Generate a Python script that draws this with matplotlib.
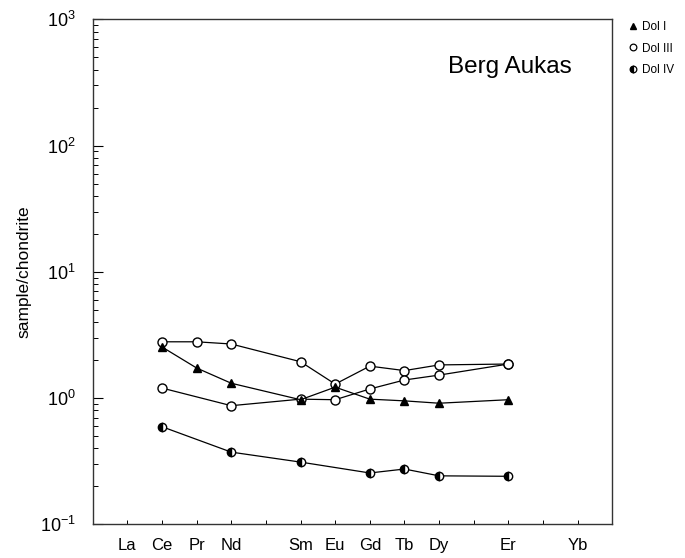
import numpy as np
import matplotlib.pyplot as plt
from matplotlib.lines import Line2D
from matplotlib.ticker import LogLocator, NullFormatter

plt.rcParams['font.family'] = ['Liberation Sans', 'DejaVu Sans']

# element positions on the REE axis (La=1 ... Yb=14)
elements = ['La', 'Ce', 'Pr', 'Nd', '', 'Sm', 'Eu', 'Gd', 'Tb', 'Dy', '', 'Er', '', 'Yb']
elem_pos = np.arange(1, 15)

# Dol I (filled triangles)
dol1_x = [2, 3, 4, 6, 7, 8, 9, 10, 12]
dol1_y = [2.54, 1.73, 1.31, 0.97, 1.22, 0.98, 0.95, 0.91, 0.97]

# Dol III, sample a (open circles)
dol3a_x = [2, 3, 4, 6, 7, 8, 9, 10, 12]
dol3a_y = [2.79, 2.79, 2.68, 1.94, 1.29, 1.79, 1.65, 1.83, 1.86]

# Dol III, sample b (open circles)
dol3b_x = [2, 4, 6, 7, 8, 9, 10, 12]
dol3b_y = [1.20, 0.87, 0.98, 0.97, 1.18, 1.39, 1.52, 1.86]

# Dol IV (half filled circles)
dol4_x = [2, 4, 6, 8, 9, 10, 12]
dol4_y = [0.593, 0.373, 0.311, 0.255, 0.274, 0.242, 0.240]

fig = plt.figure(figsize=(6.85, 5.58), dpi=100)
ax = fig.add_axes([0.1353, 0.0604, 0.7586, 0.905])

lw = 0.9
ax.plot(dol3a_x, dol3a_y, '-', color='black', lw=lw, marker='o', ms=6.5,
        mfc='white', mec='black', mew=1.0, zorder=3)
ax.plot(dol3b_x, dol3b_y, '-', color='black', lw=lw, marker='o', ms=6.5,
        mfc='white', mec='black', mew=1.0, zorder=3)
ax.plot(dol1_x, dol1_y, '-', color='black', lw=lw, marker='^', ms=6,
        mfc='black', mec='black', zorder=4)
ax.plot(dol4_x, dol4_y, '-', color='black', lw=lw, marker='o', ms=6,
        mfc='black', mfcalt='white', fillstyle='left', mec='black', mew=1.0, zorder=3)

ax.set_yscale('log')
ax.set_ylim(0.1, 1000)
ax.set_xlim(0, 15)

ax.yaxis.set_major_locator(LogLocator(base=10, numticks=10))
ax.yaxis.set_minor_locator(LogLocator(base=10, subs=np.arange(2, 10), numticks=20))
ax.yaxis.set_minor_formatter(NullFormatter())
ax.tick_params(axis='y', which='major', direction='in', length=7, width=0.8,
               labelsize=13, pad=12, right=False)
ax.tick_params(axis='y', which='minor', direction='in', length=3.5, width=0.7, right=False)

ax.set_xticks(elem_pos)
ax.set_xticklabels(elements)
ax.tick_params(axis='x', which='major', direction='in', length=3, width=0.7,
               labelsize=12, pad=10, top=False)
ax.tick_params(axis='x', which='minor', bottom=False, top=False)

for sp in ax.spines.values():
    sp.set_color('#333333')
    sp.set_linewidth(1.0)

ax.set_ylabel('sample/chondrite', fontsize=12.5, labelpad=6)

ax.text(0.922, 0.905, 'Berg Aukas', transform=ax.transAxes, ha='right', va='center',
        fontsize=17.5)

handles = [
    Line2D([], [], ls='none', marker='^', ms=4.8, mfc='black', mec='black'),
    Line2D([], [], ls='none', marker='o', ms=4.8, mfc='white', mec='black', mew=0.9),
    Line2D([], [], ls='none', marker='o', ms=4.8, mfc='black', mfcalt='white',
           fillstyle='left', mec='black', mew=0.9),
]
fig.legend(handles, ['Dol I', 'Dol III', 'Dol IV'], loc='upper left',
           bbox_to_anchor=(0.905, 0.977), frameon=False, fontsize=8.5,
           handlelength=0.8, handletextpad=0.4, labelspacing=0.8, borderpad=0.2)

fig.savefig('out.png', dpi=100)
